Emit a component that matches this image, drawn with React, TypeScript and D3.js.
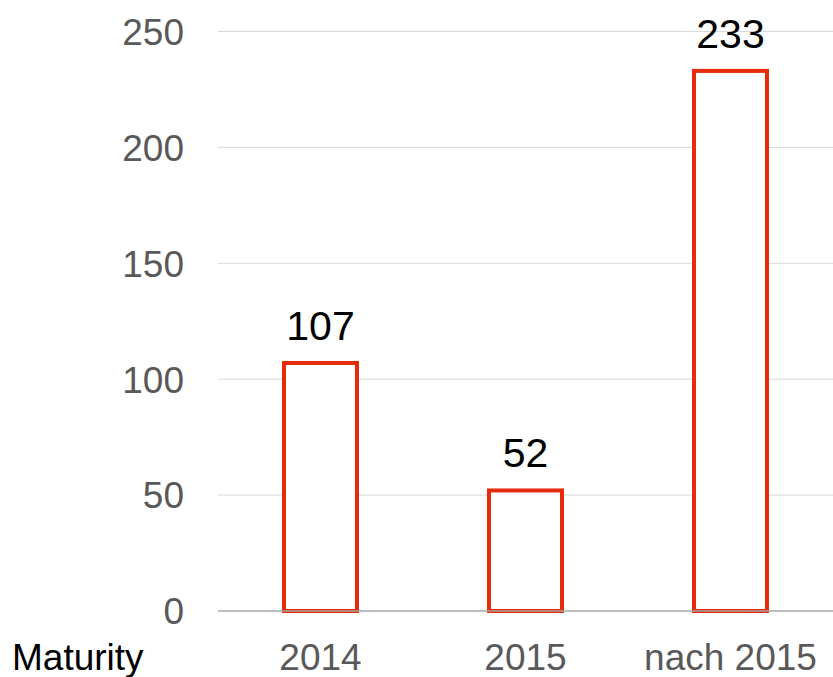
import React from "react";
import * as d3 from "d3";

const categories = ["2014", "2015", "nach 2015"];
const values = [107, 52, 233];
const yTicks = [0, 50, 100, 150, 200, 250];
const axisTitle = "Maturity";

const W = 833;
const H = 677;
const left = 218;
const right = 833;
const top = 31.5;
const bottom = 611;

export default function App() {
  const x = d3.scaleBand<string>().domain(categories).range([left, right]).paddingInner(0.644).paddingOuter(0.322);
  const y = d3.scaleLinear().domain([0, 250]).range([bottom, top]);
  const font = "'Liberation Sans', Arial, sans-serif";
  return (
    <svg width={W} height={H} style={{ position: "absolute", left: 0, top: 0, background: "#fff" }} fontFamily={font}>
      {yTicks.map((t) => (
        <g key={t}>
          {t !== 0 && <line x1={left} x2={right} y1={y(t)} y2={y(t)} stroke="#d9d9d9" strokeWidth={1} />}
          <text x={184} y={y(t)} dy="0.36em" textAnchor="end" fontSize={37} fill="#595959">{t}</text>
        </g>
      ))}
      {categories.map((c, i) => (
        <g key={c}>
          <rect x={x(c)!} y={y(values[i])} width={x.bandwidth()} height={bottom - y(values[i])} fill="#fff" stroke="#e62b0a" strokeWidth={4} />
          <text x={x(c)! + x.bandwidth() / 2} y={y(values[i]) - 23} textAnchor="middle" fontSize={41} fill="#000">{values[i]}</text>
          <text x={x(c)! + x.bandwidth() / 2} y={670} textAnchor="middle" fontSize={37} fill="#595959">{c}</text>
        </g>
      ))}
      <line x1={left} x2={right} y1={bottom} y2={bottom} stroke="#a6a6a6" strokeWidth={1.5} />
      <text x={12} y={670} fontSize={37} fill="#000">{axisTitle}</text>
    </svg>
  );
}
